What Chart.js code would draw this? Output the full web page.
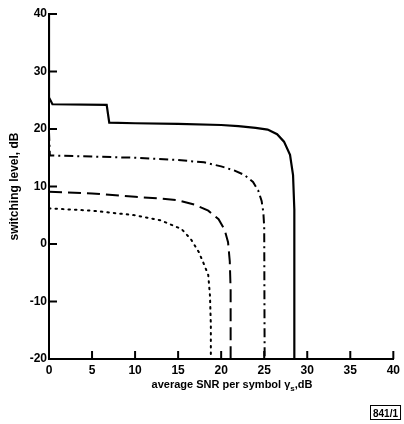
<!DOCTYPE html>
<html><head><meta charset="utf-8">
<script src="https://cdn.jsdelivr.net/npm/chart.js@4"></script>
<style>html,body{margin:0;padding:0;background:#fff}#wrap{width:404px;height:424px}</style>
</head><body><div id="wrap"><canvas id="c" width="404" height="424"></canvas></div>
<script>
const xTicks = [0,5,10,15,20,25,30,35,40];
const yTicks = [-20,-10,0,10,20,30,40];
const solidX = [0,0,0.4,6.7,7.0,10,15,20,22,24,25.4,26.5,27.3,28.0,28.35,28.5,28.5];
const solidY = [40,25.5,24.3,24.2,21.1,21.0,20.9,20.7,20.5,20.2,19.9,19.1,17.8,15.5,12,6,-20];
const dashDotX = [0,0.1,5,10,15,18,20,21.5,22.7,23.7,24.3,24.7,24.9,25.0,25.05];
const dashDotY = [19.5,15.4,15.2,15.0,14.6,14.2,13.5,12.8,12.0,10.8,9.3,7.5,5.5,3,-20];
const dashedX = [0,5,10,13,15,17,18.5,19.7,20.4,20.8,21.0,21.1,21.1];
const dashedY = [9.1,8.8,8.2,7.9,7.6,6.8,5.8,4.3,2.5,0.3,-3,-8,-20];
const dottedX = [0,5,10,13,15.4,16.5,17.4,18.0,18.5,18.7,18.8,18.8];
const dottedY = [6.2,5.8,5.0,4.1,2.6,0.8,-1.4,-3.5,-5.4,-9,-14,-19.5];

const pts = (xs, ys) => xs.map((x, i) => ({x, y: ys[i]}));
const FONT = 'Liberation Sans, Arial, sans-serif';

const inwardTicks = {
  id: 'inwardTicks',
  afterDraw(chart) {
    const ctx = chart.ctx, xs = chart.scales.x, ys = chart.scales.y;
    const a = chart.chartArea;
    ctx.save();
    ctx.strokeStyle = '#000';
    ctx.lineWidth = 2;
    xTicks.forEach(v => {
      const p = xs.getPixelForValue(v);
      ctx.beginPath(); ctx.moveTo(p, a.bottom); ctx.lineTo(p, a.bottom - 8); ctx.stroke();
    });
    yTicks.forEach(v => {
      const p = ys.getPixelForValue(v);
      ctx.beginPath(); ctx.moveTo(a.left, p); ctx.lineTo(a.left + 8, p); ctx.stroke();
    });
    // x axis title with subscript
    ctx.fillStyle = '#000';
    ctx.textBaseline = 'alphabetic';
    const f1 = 'bold 11px ' + FONT, f2 = 'bold 8px ' + FONT;
    const s1 = 'average SNR per symbol \u03B3', s2 = 's', s3 = ',dB';
    ctx.font = f1; const w1 = ctx.measureText(s1).width, w3 = ctx.measureText(s3).width;
    ctx.font = f2; const w2 = ctx.measureText(s2).width;
    let x0 = 232 - (w1 + w2 + w3) / 2; const yb = 388;
    ctx.font = f1; ctx.fillText(s1, x0, yb);
    ctx.font = f2; ctx.fillText(s2, x0 + w1, yb + 3);
    ctx.font = f1; ctx.fillText(s3, x0 + w1 + w2, yb);
    // reference box
    ctx.font = 'bold 10px ' + FONT;
    const bt = '841/1'; const bw = ctx.measureText(bt).width;
    ctx.lineWidth = 1;
    ctx.strokeRect(370.5, 405.5, bw + 5, 14);
    ctx.fillText(bt, 373, 417);
    ctx.restore();
  }
};

new Chart(document.getElementById('c'), {
  type: 'line',
  data: {
    datasets: [
      {data: pts(solidX, solidY), borderColor: '#000', borderWidth: 2.2},
      {data: pts(dashDotX, dashDotY), borderColor: '#000', borderWidth: 2, borderDash: [9,4,2,4]},
      {data: pts(dashedX, dashedY), borderColor: '#000', borderWidth: 2, borderDash: [13,6]},
      {data: pts(dottedX, dottedY), borderColor: '#000', borderWidth: 2, borderDash: [1.5,5], borderCapStyle: 'round'}
    ]
  },
  options: {
    responsive: false, animation: false,
    elements: {point: {radius: 0}, line: {tension: 0, fill: false}},
    plugins: {legend: {display: false}, tooltip: {enabled: false}},
    layout: {padding: {top: 14, right: 6, left: 0, bottom: 0}},
    scales: {
      x: {
        type: 'linear', min: 0, max: 40,
        afterBuildTicks: s => { s.ticks = xTicks.map(v => ({value: v})); },
        afterFit: s => { s.height = 65; },
        grid: {display: false, drawTicks: false},
        border: {display: true, color: '#000', width: 2},
        ticks: {color: '#000', padding: 4, font: {family: FONT, size: 12, weight: 'bold'}, maxRotation: 0}
      },
      y: {
        type: 'linear', min: -20, max: 40,
        afterBuildTicks: s => { s.ticks = yTicks.map(v => ({value: v})); },
        afterFit: s => { s.width = 49; },
        grid: {display: false, drawTicks: false},
        border: {display: true, color: '#000', width: 2},
        title: {display: true, text: 'switching level, dB', color: '#000', padding: {top: 7, bottom: 0}, font: {family: FONT, size: 12, weight: 'bold'}},
        ticks: {color: '#000', padding: 2, font: {family: FONT, size: 12, weight: 'bold'}}
      }
    }
  },
  plugins: [inwardTicks]
});
</script></body></html>
